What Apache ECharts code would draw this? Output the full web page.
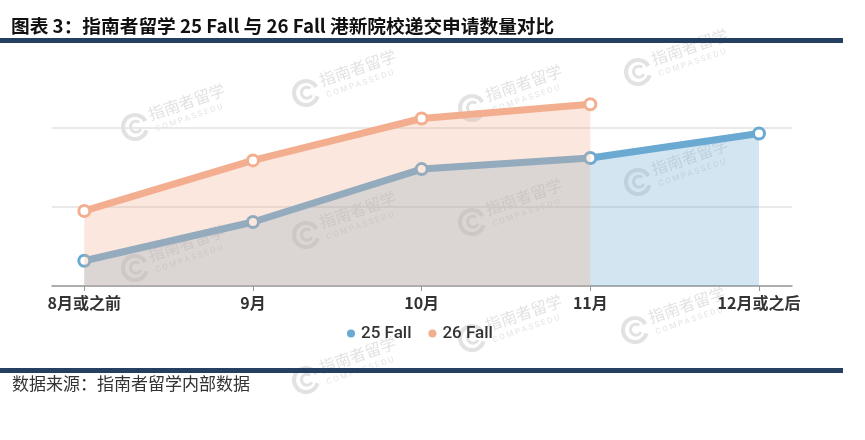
<!DOCTYPE html>
<html><head><meta charset="utf-8">
<script src="https://cdn.jsdelivr.net/npm/echarts@6/dist/echarts.min.js"></script>
<style>html,body{margin:0;padding:0;background:#fff}#c{width:865px;height:440px}</style>
</head><body><div id="c"></div>
<script>
// ---- data ----
const categories = ['8月或之前', '9月', '10月', '11月', '12月或之后'];
const fall25 = [32, 81, 148, 162, 193];
const fall26 = [95, 159, 212, 230, null];
const seriesNames = ['25 Fall', '26 Fall'];
const titleText = '图表 3：指南者留学 25 Fall 与 26 Fall 港新院校递交申请数量对比';
const sourceText = '数据来源：指南者留学内部数据';
const watermarkSpots = [[135,127],[306,93],[472,108],[638,72],[638,182],[472,222],[306,235],[135,268],[635,330],[472,338],[306,380]];

const BLUE = '#6aa9d1', ORANGE = '#f3ae8f', NAVY = '#243f5f';
const CJK = "'Noto Sans CJK SC', sans-serif";

function watermark(p) {
  const c = 'rgba(150,150,150,0.28)';
  return {
    type: 'group', x: p[0], y: p[1], rotation: 0.33, z: 100, silent: true,
    children: [
      { type: 'arc', shape: { cx: 0, cy: 0, r: 12, startAngle: 0.6, endAngle: Math.PI * 2 - 0.2 },
        style: { stroke: c, lineWidth: 4, fill: null } },
      { type: 'arc', shape: { cx: 1, cy: 0, r: 5.5, startAngle: 0.8, endAngle: Math.PI * 2 - 0.6 },
        style: { stroke: c, lineWidth: 3, fill: null } },
      { type: 'text', style: { text: '指南者留学', x: 17, y: -7, fill: c, fontSize: 16, fontFamily: CJK, verticalAlign: 'middle' } },
      { type: 'text', style: { text: 'C O M P A S S E D U', x: 19, y: 9, fill: c, fontSize: 8, fontFamily: 'Roboto', verticalAlign: 'middle' } }
    ]
  };
}

const chart = echarts.init(document.getElementById('c'), null, { renderer: 'canvas' });
chart.setOption({
  animation: false,
  backgroundColor: '#fff',
  title: {
    text: titleText, left: 6, top: 12,
    textStyle: { fontSize: 18.7, fontWeight: 'bold', color: '#111', fontFamily: CJK }
  },
  legend: {
    data: [
      { name: seriesNames[0], itemStyle: { color: BLUE, borderWidth: 0 } },
      { name: seriesNames[1], itemStyle: { color: ORANGE, borderWidth: 0 } }
    ],
    icon: 'circle', itemWidth: 10, itemHeight: 8, itemGap: 17,
    left: 342, top: 320,
    textStyle: { fontSize: 17, color: '#333', fontFamily: 'Roboto', fontWeight: 500 }
  },
  grid: [
    { left: 84.3, right: 106, top: 49, bottom: 154 },
    { left: 52, right: 73, top: 128, bottom: 154 }
  ],
  xAxis: [
    { type: 'category', gridIndex: 0, data: categories, boundaryGap: false,
      axisLine: { show: false },
      axisTick: { show: true, length: 5, lineStyle: { color: '#999' } },
      axisLabel: { margin: 9, fontSize: 16, fontWeight: 'bold', color: '#333', fontFamily: CJK },
      splitLine: { show: false } },
    { type: 'value', gridIndex: 1, min: 0, max: 1,
      axisLine: { show: true, lineStyle: { color: '#999', width: 1.5 } },
      axisTick: { show: false }, axisLabel: { show: false }, splitLine: { show: false } }
  ],
  yAxis: [
    { type: 'value', gridIndex: 0, min: 0, max: 300, interval: 100,
      axisLine: { show: false }, axisTick: { show: false }, axisLabel: { show: false }, splitLine: { show: false } },
    { type: 'value', gridIndex: 1, min: 0, max: 200, interval: 100,
      axisLine: { show: false }, axisTick: { show: false }, axisLabel: { show: false },
      splitLine: { show: true, lineStyle: { color: '#e2e2e2', width: 1.5 } } }
  ],
  series: [
    { name: seriesNames[0], type: 'line', xAxisIndex: 0, yAxisIndex: 0, data: fall25, z: 2,
      color: BLUE, lineStyle: { width: 7, color: BLUE },
      symbol: 'circle', symbolSize: 11, showSymbol: true,
      itemStyle: { color: '#fff', borderColor: BLUE, borderWidth: 3 },
      areaStyle: { color: BLUE, opacity: 0.3 } },
    { name: seriesNames[1], type: 'line', xAxisIndex: 0, yAxisIndex: 0, data: fall26, z: 3,
      color: ORANGE, lineStyle: { width: 7, color: ORANGE },
      symbol: 'circle', symbolSize: 11, showSymbol: true,
      itemStyle: { color: '#fff', borderColor: ORANGE, borderWidth: 3 },
      areaStyle: { color: ORANGE, opacity: 0.3 } }
  ],
  graphic: [
    { type: 'rect', shape: { x: 0, y: 38, width: 843, height: 5 }, style: { fill: NAVY }, z: 50 },
    { type: 'rect', shape: { x: 0, y: 368, width: 843, height: 5 }, style: { fill: NAVY }, z: 50 },
    { type: 'text', style: { text: sourceText, x: 12, y: 384, fill: '#333', fontSize: 17, fontFamily: CJK, verticalAlign: 'middle' }, z: 50 }
  ].concat(watermarkSpots.map(watermark))
});
</script></body></html>
